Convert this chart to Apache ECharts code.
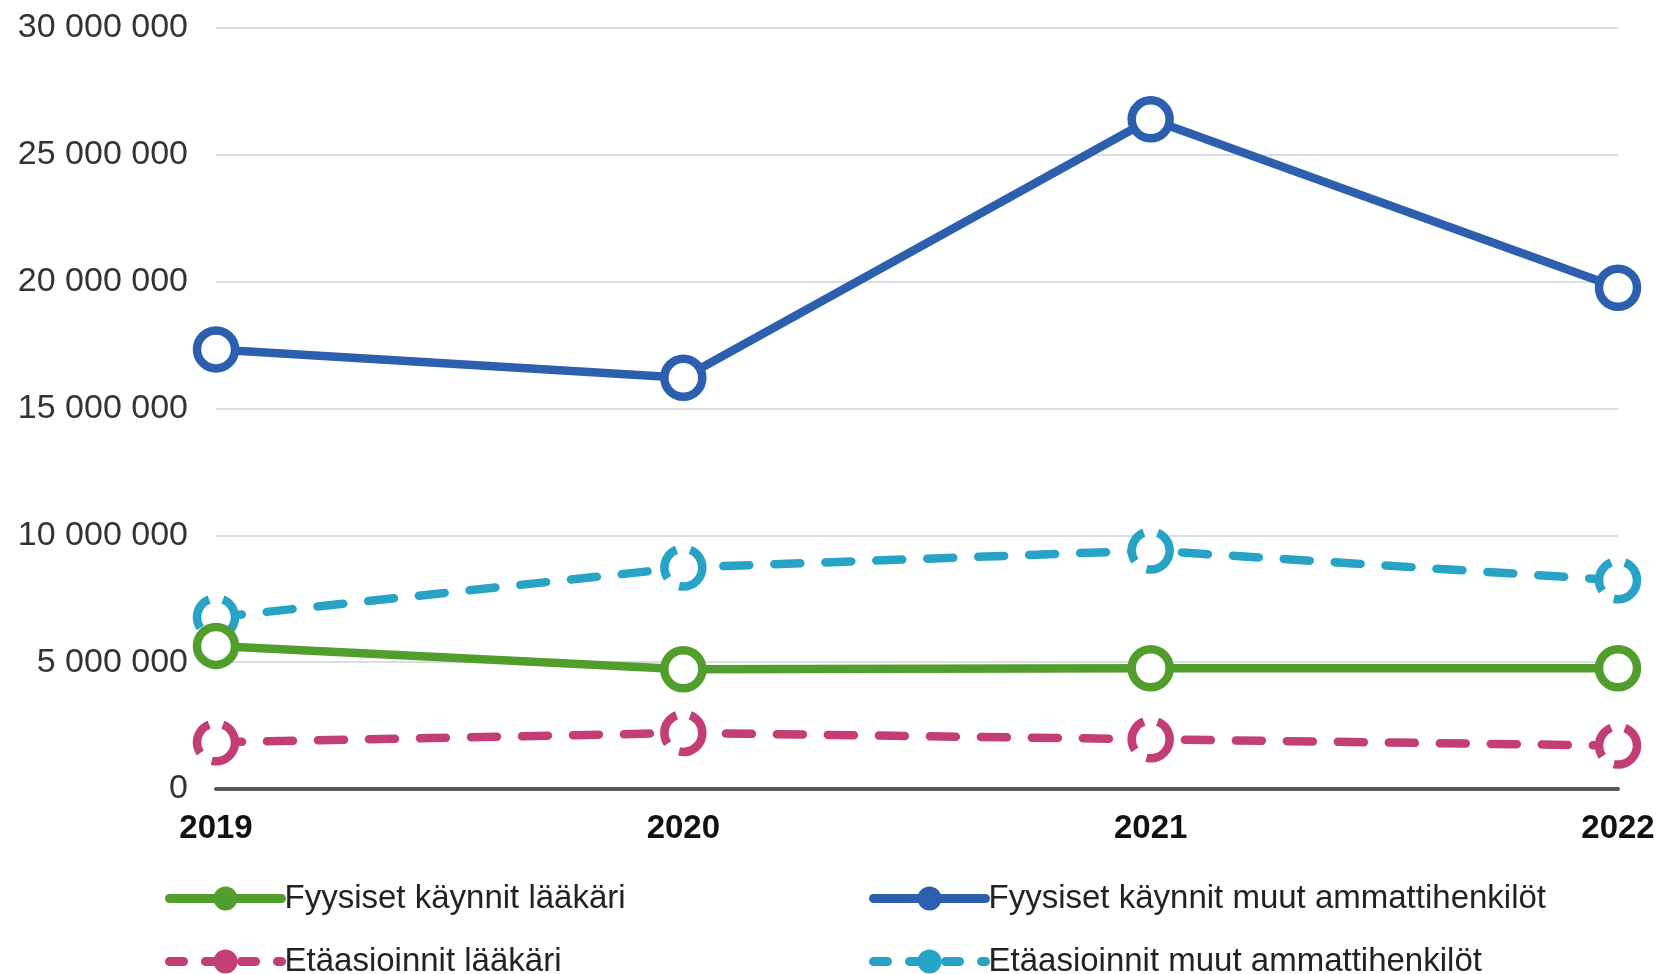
<!DOCTYPE html>
<html>
<head>
<meta charset="utf-8">
<script src="https://cdn.jsdelivr.net/npm/echarts@6/dist/echarts.min.js"></script>
<style>
  html, body { margin: 0; padding: 0; background: #fff; }
  #chart { width: 1662px; height: 974px; }
</style>
</head>
<body>
<div id="chart"></div>
<script>
const years = ['2019', '2020', '2021', '2022']
const fyysisetLaakari = [5640000, 4720000, 4760000, 4760000]
const fyysisetMuut = [17330000, 16210000, 26400000, 19760000]
const etaLaakari = [1840000, 2210000, 1960000, 1710000]
const etaMuut = [6770000, 8730000, 9400000, 8230000]

const font = '"Liberation Sans", Arial, sans-serif'

function serie(name, data, color, dashed) {
  return {
    name: name,
    type: 'line',
    data: data,
    symbol: 'circle',
    symbolSize: 38,
    lineStyle: {
      color: color,
      width: 8.5,
      type: dashed ? [26, 25] : 'solid',
      cap: dashed ? 'round' : 'butt'
    },
    itemStyle: {
      color: '#fff',
      borderColor: color,
      borderWidth: 8.5,
      borderType: dashed ? [34, 14] : 'solid'
    }
  }
}

function legendAt(name, color, dashed, left, top) {
  return {
    data: [{
      name: name,
      itemStyle: { color: color, borderColor: color, borderWidth: 0 },
      lineStyle: { color: color, width: 9, type: dashed ? [14, 22] : 'solid', cap: 'round' }
    }],
    left: left,
    top: top,
    itemWidth: 112,
    itemHeight: 30,
    itemGap: 0,
    textStyle: { fontSize: 33, color: '#222', fontFamily: font, padding: [0, 0, 0, -2] }
  }
}

const myChart = echarts.init(document.getElementById('chart'))
const option = {
  backgroundColor: '#fff',
  animation: false,
  grid: { left: 216, right: 44, top: 28, bottom: 185 },
  legend: [
    legendAt('Fyysiset käynnit lääkäri', '#519e2c', false, 160, 877),
    legendAt('Fyysiset käynnit muut ammattihenkilöt', '#2c5fae', false, 864, 877),
    legendAt('Etäasioinnit lääkäri', '#c23e75', true, 160, 940),
    legendAt('Etäasioinnit muut ammattihenkilöt', '#27a3c6', true, 864, 940)
  ],
  xAxis: {
    type: 'category',
    data: years,
    boundaryGap: false,
    axisLine: { lineStyle: { color: '#595959', width: 4 } },
    axisTick: { show: false },
    axisLabel: {
      fontSize: 33,
      fontWeight: 'bold',
      color: '#111',
      fontFamily: font,
      margin: 23,
      showMaxLabel: true,
      showMinLabel: true
    }
  },
  yAxis: {
    type: 'value',
    min: 0,
    max: 30000000,
    interval: 5000000,
    axisLine: { show: false },
    axisTick: { show: false },
    axisLabel: {
      fontSize: 34,
      color: '#333',
      fontFamily: font,
      margin: 28,
      formatter: function (v) {
        return String(v).replace(/\B(?=(\d{3})+(?!\d))/g, ' ')
      }
    },
    splitLine: { lineStyle: { color: '#d9dce0', width: 2 } }
  },
  series: [
    serie('Etäasioinnit lääkäri', etaLaakari, '#c23e75', true),
    serie('Etäasioinnit muut ammattihenkilöt', etaMuut, '#27a3c6', true),
    serie('Fyysiset käynnit lääkäri', fyysisetLaakari, '#519e2c', false),
    serie('Fyysiset käynnit muut ammattihenkilöt', fyysisetMuut, '#2c5fae', false)
  ]
}
myChart.setOption(option)
</script>
</body>
</html>
